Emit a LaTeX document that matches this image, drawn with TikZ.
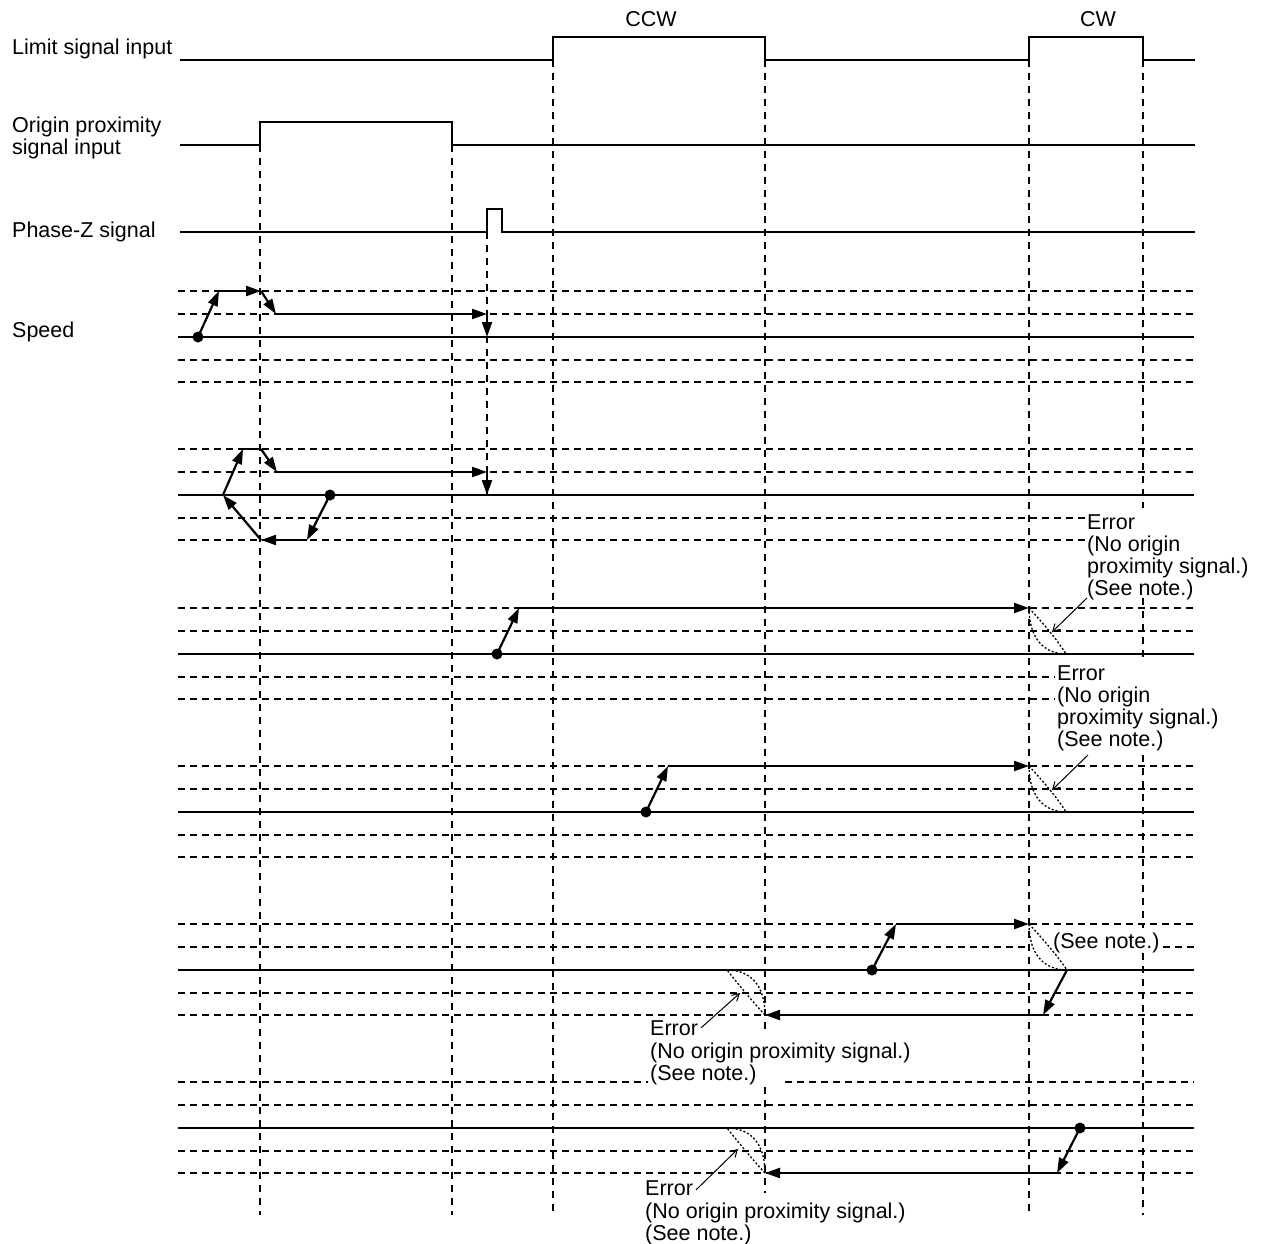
\documentclass[tikz,border=0pt]{standalone}
\usepackage{fontspec}
\setmainfont{Liberation Sans}
\usetikzlibrary{arrows.meta}
\begin{document}
\begin{tikzpicture}[x=1pt,y=-1pt,
  sig/.style={line width=2pt},
  hd/.style={line width=1.3pt,dash pattern=on 7pt off 5pt},
  vd/.style={line width=1.2pt,dash pattern=on 7pt off 6pt},
  zl/.style={line width=2.2pt},
  mv/.style={line width=2.2pt,-{Triangle[length=15pt,width=10pt]}},
  mvn/.style={line width=2.2pt},
  dotc/.style={line width=1.3pt,dash pattern=on 2pt off 2pt},
  lead/.style={line width=1pt,-{Straight Barb[length=7pt,width=8pt]}},
  spot/.style={circle,fill,inner sep=0pt,minimum size=11pt},
  lbl/.style={font=\fontsize{21.5}{22}\selectfont,inner sep=0pt,anchor=base west}]
\useasboundingbox (0,0) rectangle (1261,1244);

% ---------- labels ----------
\node[lbl] (lim) at (12,55) {Limit signal input};
\node[lbl] (org1) at (12,132) {Origin proximity};
\node[lbl] (org2) at (12,155) {signal input};
\node[lbl] (phz) at (12,237) {Phase-Z signal};
\node[lbl] (spd) at (12,337) {Speed};
\node[lbl,anchor=base] (ccw) at (651,27) {CCW};
\node[lbl,anchor=base] (cw) at (1098,27) {CW};

% ---------- signals ----------
\draw[sig] (180,60) -- (553,60) -- (553,37) -- (765,37) -- (765,60) -- (1029,60) -- (1029,37) -- (1143,37) -- (1143,60) -- (1195,60);
\draw[sig] (180,145) -- (260,145) -- (260,122) -- (452,122) -- (452,145) -- (1195,145);
\draw[sig] (180,232) -- (487,232) -- (487,209) -- (502,209) -- (502,232) -- (1195,232);

% ---------- vertical dashed lines ----------
\draw[vd] (260,145) -- (260,1215);
\draw[vd] (452,145) -- (452,1215);
\draw[vd] (487,232) -- (487,495);
\draw[vd] (553,60) -- (553,1215);
\draw[vd] (765,60) -- (765,1033) (765,1087) -- (765,1193);
\draw[vd] (1029,60) -- (1029,1215);
\draw[vd] (1143,60) -- (1143,508) (1143,598) -- (1143,660) (1143,755) -- (1143,928) (1143,953) -- (1143,1215);

% ---------- horizontal grid ----------
% row 1 (zero 337)
\foreach \y in {291,314,360,382} \draw[hd] (178,\y) -- (1194,\y);
\draw[zl] (178,337) -- (1194,337);
% row 2 (zero 495)
\foreach \y in {449,472} \draw[hd] (178,\y) -- (1194,\y);
\foreach \y in {518,540} \draw[hd] (178,\y) -- (1085,\y);
\draw[zl] (178,495) -- (1194,495);
% row 3 (zero 654)
\foreach \y in {608,631} \draw[hd] (178,\y) -- (1194,\y);
\foreach \y in {677,699} \draw[hd] (178,\y) -- (1055,\y);
\draw[zl] (178,654) -- (1194,654);
% row 4 (zero 812)
\foreach \y in {766,789,835,857} \draw[hd] (178,\y) -- (1194,\y);
\draw[zl] (178,812) -- (1194,812);
% row 5 (zero 970)
\foreach \y in {924,993,1015} \draw[hd] (178,\y) -- (1194,\y);
\draw[hd] (178,947) -- (1030,947) (1163,947) -- (1194,947);
\draw[zl] (178,970) -- (1194,970);
% row 6 (zero 1128)
\foreach \y in {1105,1151,1173} \draw[hd] (178,\y) -- (1194,\y);
\draw[hd] (178,1082) -- (648,1082) (785,1082) -- (1194,1082);
\draw[zl] (178,1128) -- (1194,1128);

% ---------- row 1 ----------
\node[spot] (s1) at (198,337) {};
\draw[mv] (s1.center) -- (219,291);
\draw[mv] (219,291) -- (261,291);
\draw[mv] (261,291) -- (276,314);
\draw[mv] (276,314) -- (487,314);
\draw[mv] (487,314) -- (487,337);

% ---------- row 2 ----------
\node[spot] (s2) at (330,495) {};
\draw[mv] (s2.center) -- (307,540);
\draw[mv] (307,540) -- (261,540);
\draw[mv] (261,540) -- (223,495);
\draw[mv] (223,495) -- (243,449);
\draw[mvn] (243,449) -- (261,449);
\draw[mv] (261,449) -- (277,472);
\draw[mv] (277,472) -- (487,472);
\draw[mv] (487,472) -- (487,495);

% ---------- row 3 ----------
\node[spot] (s3) at (497,654) {};
\draw[mv] (s3.center) -- (519,608);
\draw[mv] (519,608) -- (1029,608);
\draw[dotc] (1029,608) .. controls (1029,638) and (1044,654) .. (1066,654);
\draw[dotc] (1029,608) .. controls (1042,622) and (1056,638) .. (1066,654);

% ---------- row 4 ----------
\node[spot] (s4) at (646,812) {};
\draw[mv] (s4.center) -- (668,766);
\draw[mv] (668,766) -- (1029,766);
\draw[dotc] (1029,766) .. controls (1029,796) and (1044,812) .. (1066,812);
\draw[dotc] (1029,766) .. controls (1042,780) and (1056,796) .. (1066,812);

% ---------- row 5 ----------
\node[spot] (s5) at (872,970) {};
\draw[mv] (s5.center) -- (896,924);
\draw[mv] (896,924) -- (1029,924);
\draw[dotc] (1029,924) .. controls (1029,954) and (1044,970) .. (1067,970);
\draw[dotc] (1029,924) .. controls (1042,938) and (1056,954) .. (1067,970);
\draw[mv] (1067,970) -- (1043,1015);
\draw[mv] (1043,1015) -- (765,1015);
\draw[dotc] (765,1015) .. controls (765,985) and (750,970) .. (727,970);
\draw[dotc] (765,1015) .. controls (752,1001) and (739,985) .. (727,970);

% ---------- row 6 ----------
\node[spot] (s6) at (1080,1128) {};
\draw[mv] (s6.center) -- (1057,1173);
\draw[mv] (1057,1173) -- (765,1173);
\draw[dotc] (765,1173) .. controls (765,1143) and (750,1128) .. (727,1128);
\draw[dotc] (765,1173) .. controls (752,1159) and (739,1143) .. (727,1128);

% ---------- error notes ----------
\node[lbl] (ea1) at (1087,529) {Error};
\node[lbl] (ea2) at (1087,551) {(No origin};
\node[lbl] (ea3) at (1087,573) {proximity signal.)};
\node[lbl] (ea4) at (1087,595) {(See note.)};
\coordinate (ta) at (1052,632);
\draw[lead] (1087,598) -- (ta);

\node[lbl] (eb1) at (1057,680) {Error};
\node[lbl] (eb2) at (1057,702) {(No origin};
\node[lbl] (eb3) at (1057,724) {proximity signal.)};
\node[lbl] (eb4) at (1057,746) {(See note.)};
\coordinate (tb) at (1052,790);
\draw[lead] (1088,755) -- (tb);

\node[lbl] (ec) at (1053,948) {(See note.)};

\node[lbl] (ed1) at (650,1035) {Error};
\node[lbl] (ed2) at (650,1058) {(No origin proximity signal.)};
\node[lbl] (ed3) at (650,1080) {(See note.)};
\coordinate (td) at (740,993);
\draw[lead] (ed1.east) ++(3pt,0) -- (td);

\node[lbl] (ee1) at (645,1195) {Error};
\node[lbl] (ee2) at (645,1218) {(No origin proximity signal.)};
\node[lbl] (ee3) at (645,1240) {(See note.)};
\coordinate (te) at (738,1149);
\draw[lead] (ee1.east) ++(3pt,-2pt) -- (te);
\end{tikzpicture}
\end{document}
